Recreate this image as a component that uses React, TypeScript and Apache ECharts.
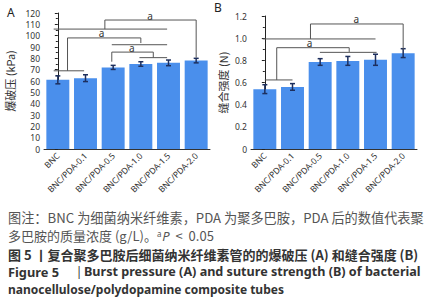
import React, { useEffect, useRef } from "react";
import * as echarts from "echarts";

const CATEGORIES = ["BNC", "BNC/PDA-0.1", "BNC/PDA-0.5", "BNC/PDA-1.0", "BNC/PDA-1.5", "BNC/PDA-2.0"];

const BURST_MEAN = [61, 62.5, 72, 75, 76, 78];
const BURST_ERR = [3.5, 3, 1.8, 2, 2.5, 2];
const BURST_TICKS = { min: 0, max: 120, interval: 10 };

const SUTURE_MEAN = [0.54, 0.56, 0.785, 0.795, 0.805, 0.865];
const SUTURE_ERR = [0.04, 0.03, 0.03, 0.04, 0.05, 0.04];
const SUTURE_TICKS = { min: 0, max: 1.2, interval: 0.2 };

// significance brackets: polylines in [categoryIndex, value]
const BURST_BRACKETS: number[][][] = [
  [[-0.15, 69], [0.95, 69]],
  [[0.35, 69], [0.35, 98], [3, 98], [3, 93.5]],
  [[1.95, 92], [3.95, 92]],
  [[-0.15, 105.8], [3.95, 105.8]],
  [[1.7, 105.8], [1.7, 113.8], [5, 113.8], [5, 80.5]],
  [[1.95, 77], [1.95, 85.5], [3.45, 85.5], [3.45, 80.6]],
  [[2.95, 80.6], [3.95, 80.6]],
];
const BURST_MARKS = [[3.33, 117], [1.58, 102.5], [2.67, 89]];

const SUTURE_BRACKETS: number[][][] = [
  [[0, 0.623], [1, 0.623]],
  [[0.43, 0.623], [0.43, 0.914], [3.05, 0.914], [3.05, 0.876]],
  [[1.99, 0.872], [4.04, 0.872]],
  [[-0.08, 0.993], [4.0, 0.993]],
  [[1.65, 0.993], [1.65, 1.128], [5.0, 1.128], [5.0, 0.895]],
];
const SUTURE_MARKS = [[3.31, 1.175], [1.62, 0.955]];

const BAR_COLOR = "#4a8fec";
const ERR_COLOR = "#1d2f5e";
const LINE_COLOR = "#555";
const FONT = "'Noto Sans', 'Noto Sans CJK SC', sans-serif";
const CJK = "'Noto Sans CJK SC', 'Noto Sans', sans-serif";

function errSeries(mean: number[], err: number[], xi: number, yi: number) {
  return {
    type: "custom",
    xAxisIndex: xi,
    yAxisIndex: yi,
    z: 5,
    data: mean.map((m, i) => [i, m, err[i]]),
    renderItem: (params: any, api: any) => {
      const i = api.value(0);
      const m = api.value(1);
      const e = api.value(2);
      const top = api.coord([i, m + e]);
      const bot = api.coord([i, m - e]);
      const c = 2.5;
      const style = { stroke: ERR_COLOR, lineWidth: 1.5 };
      return {
        type: "group",
        children: [
          { type: "line", shape: { x1: top[0], y1: top[1], x2: bot[0], y2: bot[1] }, style },
          { type: "line", shape: { x1: top[0] - c, y1: top[1], x2: top[0] + c, y2: top[1] }, style },
          { type: "line", shape: { x1: bot[0] - c, y1: bot[1], x2: bot[0] + c, y2: bot[1] }, style },
        ],
      };
    },
  };
}

function bracketSeries(brackets: number[][][], marks: number[][], xi: number, yi: number) {
  return {
    type: "custom",
    xAxisIndex: xi,
    yAxisIndex: yi,
    z: 6,
    clip: false,
    data: brackets.map((_, i) => [i, 0]),
    renderItem: (params: any, api: any) => {
      const idx = params.dataIndex;
      const children: any[] = [
        {
          type: "polyline",
          shape: { points: brackets[idx].map((p) => api.coord(p)) },
          style: { stroke: LINE_COLOR, lineWidth: 1, fill: null },
        },
      ];
      if (idx === 0) {
        marks.forEach((m) => {
          const p = api.coord(m);
          children.push({
            type: "text",
            x: p[0],
            y: p[1],
            style: { text: "a", fill: "#333", font: `10px ${FONT}`, textAlign: "center", textVerticalAlign: "middle" },
          });
        });
      }
      return { type: "group", children };
    },
  };
}

function yAxis(gridIndex: number, ticks: any, name: string, nameGap: number, fmt?: (v: number) => string) {
  return {
    type: "value",
    gridIndex,
    min: ticks.min,
    max: ticks.max,
    interval: ticks.interval,
    name,
    nameLocation: "middle",
    nameGap,
    nameTextStyle: { fontSize: 11, color: "#333", fontFamily: CJK },
    axisLine: { show: true, lineStyle: { color: "#222", width: 1 } },
    axisTick: { show: true, length: 3, lineStyle: { color: "#222" } },
    minorTick: { show: true, splitNumber: 2, length: 2, lineStyle: { color: "#222" } },
    splitLine: { show: false },
    axisLabel: { fontSize: 8.5, lineHeight: 9, color: "#333", margin: 4, fontFamily: FONT, formatter: fmt },
  };
}

function xCat(gridIndex: number) {
  return {
    type: "category",
    gridIndex,
    data: CATEGORIES,
    axisLine: { show: true, lineStyle: { color: "#333", width: 1 } },
    axisTick: { show: false },
    axisLabel: { rotate: 45, fontSize: 8.5, color: "#333", margin: 5, interval: 0, fontFamily: FONT },
  };
}

function xVal(gridIndex: number) {
  return { type: "value", gridIndex, min: -0.5, max: 5.5, show: false };
}

export default function App() {
  const ref = useRef<HTMLDivElement>(null);
  useEffect(() => {
    if (!ref.current) return;
    const chart = echarts.init(ref.current, null, { renderer: "svg" });
    const capGray = "#555";
    const capDark = "#333";
    chart.setOption({
      animation: false,
      backgroundColor: "#fff",
      grid: [
        { left: 44, top: 13, width: 166, height: 136 },
        { left: 251, top: 16, width: 166, height: 133 },
      ],
      xAxis: [xCat(0), xVal(0), xCat(1), xVal(1)],
      yAxis: [
        yAxis(0, BURST_TICKS, "爆破压 (kPa)", 29),
        yAxis(1, SUTURE_TICKS, "缝合强度 (N)", 23, (v: number) => (v === 0 ? "0" : v.toFixed(1))),
      ],
      series: [
        { type: "bar", xAxisIndex: 0, yAxisIndex: 0, data: BURST_MEAN, barWidth: "83%", itemStyle: { color: BAR_COLOR } },
        errSeries(BURST_MEAN, BURST_ERR, 0, 0),
        bracketSeries(BURST_BRACKETS, BURST_MARKS, 1, 0),
        { type: "bar", xAxisIndex: 2, yAxisIndex: 1, data: SUTURE_MEAN, barWidth: "83%", itemStyle: { color: BAR_COLOR } },
        errSeries(SUTURE_MEAN, SUTURE_ERR, 2, 1),
        bracketSeries(SUTURE_BRACKETS, SUTURE_MARKS, 3, 1),
      ],
      graphic: [
        { type: "text", left: 7, top: 6, style: { text: "A", font: `12px ${FONT}`, fill: "#222" } },
        { type: "text", left: 214, top: 1, style: { text: "B", font: `12px ${FONT}`, fill: "#222" } },
        {
          type: "text", x: 8, y: 217,
          style: { text: "图注：BNC 为细菌纳米纤维素，PDA 为聚多巴胺，PDA 后的数值代表聚", font: `13.2px ${CJK}`, fill: capGray, textVerticalAlign: "middle" },
        },
        {
          type: "text", x: 8, y: 235.5,
          style: {
            text: "{n|多巴胺的质量浓度 (g/L)。}{s|a}{i|P}{n|  <  0.05}",
            textVerticalAlign: "middle",
            rich: {
              n: { font: `13px ${CJK}`, fill: capGray, lineHeight: 13 },
              s: { font: `8px ${FONT}`, fill: capGray, verticalAlign: "top", lineHeight: 8, padding: [0, 1, 0, 0] },
              i: { font: `italic 13px ${FONT}`, fill: capGray, lineHeight: 13 },
            },
          },
        },
        {
          type: "text", x: 8, y: 254,
          style: { text: "图 5 丨复合聚多巴胺后细菌纳米纤维素管的的爆破压 (A) 和缝合强度 (B)", font: `bold 13px ${CJK}`, fill: capDark, textVerticalAlign: "middle" },
        },
        {
          type: "text", x: 8, y: 271.5,
          style: { text: "Figure 5", font: `bold 12.8px ${FONT}`, fill: capDark, textVerticalAlign: "middle" },
        },
        {
          type: "text", x: 79, y: 271.5,
          style: { text: "|", font: `12px ${FONT}`, fill: capDark, textVerticalAlign: "middle", textAlign: "center" },
        },
        {
          type: "text", x: 84, y: 271.5,
          style: { text: "Burst pressure (A) and suture strength (B) of bacterial", font: `bold 12.6px ${FONT}`, fill: capDark, textVerticalAlign: "middle" },
        },
        {
          type: "text", x: 8, y: 289,
          style: { text: "nanocellulose/polydopamine composite tubes", font: `bold 12px ${FONT}`, fill: capDark, textVerticalAlign: "middle" },
        },
      ],
    });
    return () => chart.dispose();
  }, []);
  return <div ref={ref} style={{ position: "absolute", left: 0, top: 0, width: 436, height: 300 }} />;
}
